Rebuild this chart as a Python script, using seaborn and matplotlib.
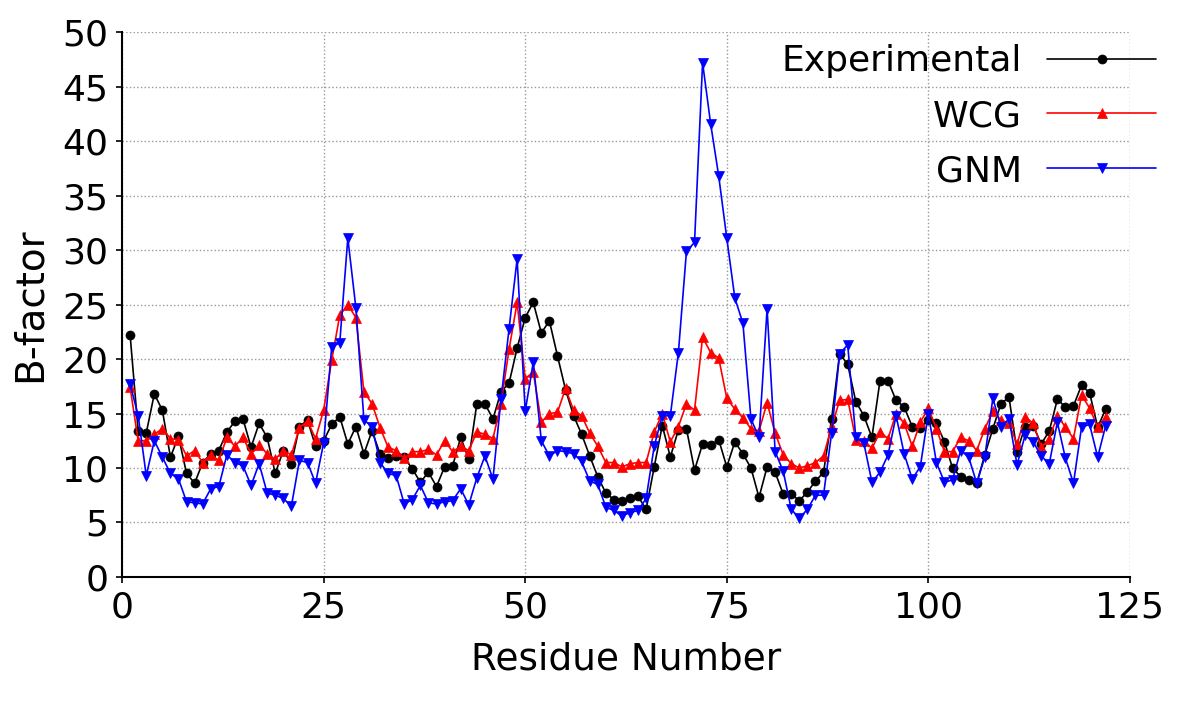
import numpy as np
import pandas as pd
import matplotlib
matplotlib.use("Agg")
import matplotlib.pyplot as plt
import seaborn as sns

residues = list(range(1, 123))

experimental = [
    22.2, 13.4, 13.2, 16.8, 15.3, 11.0, 12.9, 9.5, 8.6, 10.5,
    11.3, 11.6, 13.3, 14.3, 14.5, 11.9, 14.1, 12.8, 9.5, 11.6,
    10.4, 13.8, 14.4, 12.0, 12.5, 14.0, 14.7, 12.2, 13.8, 11.3,
    13.4, 11.3, 10.9, 11.1, 11.0, 9.9, 8.7, 9.6, 8.3, 10.1,
    10.2, 12.8, 10.8, 15.9, 15.9, 14.5, 17.0, 17.8, 21.0, 23.8,
    25.2, 22.4, 23.5, 20.3, 17.2, 14.8, 13.1, 11.1, 9.2, 7.7,
    7.1, 7.0, 7.2, 7.4, 6.2, 10.1, 13.9, 11.0, 13.5, 13.6,
    9.8, 12.2, 12.1, 12.6, 10.1, 12.4, 11.3, 10.0, 7.3, 10.1,
    9.6, 7.6, 7.6, 7.0, 7.8, 8.8, 9.6, 14.5, 20.5, 19.5,
    16.1, 14.8, 12.8, 18.0, 18.0, 16.2, 15.6, 13.8, 13.7, 14.4,
    14.1, 12.4, 10.0, 9.2, 8.9, 8.6, 11.2, 13.6, 15.9, 16.5,
    11.5, 13.8, 13.9, 12.2, 13.4, 16.3, 15.6, 15.7, 17.6, 16.9,
    13.75, 15.4,
]

wcg = [
    17.4, 12.5, 12.5, 13.1, 13.6, 12.7, 12.6, 11.1, 11.6, 10.5,
    11.2, 10.7, 12.8, 12.0, 12.8, 11.3, 12.1, 11.3, 10.8, 11.6,
    11.2, 13.7, 14.3, 12.7, 15.3, 19.9, 24.0, 25.0, 23.8, 17.0,
    15.9, 13.7, 11.9, 11.6, 10.9, 11.5, 11.5, 11.7, 11.2, 12.5,
    11.5, 12.0, 11.6, 13.3, 13.1, 12.7, 15.9, 20.9, 25.2, 18.2,
    18.8, 14.2, 15.0, 15.1, 17.3, 15.3, 14.8, 13.2, 12.0, 10.5,
    10.5, 10.1, 10.4, 10.5, 10.5, 13.3, 15.0, 12.4, 13.8, 15.9,
    15.3, 22.0, 20.6, 20.1, 16.4, 15.4, 14.6, 13.6, 13.4, 16.0,
    13.2, 11.2, 10.4, 10.0, 10.2, 10.5, 11.1, 13.8, 16.2, 16.3,
    12.6, 12.5, 11.8, 13.3, 12.7, 15.0, 14.1, 12.0, 14.2, 15.5,
    13.6, 11.5, 11.5, 12.8, 12.5, 11.6, 13.6, 15.2, 14.4, 14.1,
    12.2, 14.7, 14.1, 11.9, 12.7, 14.8, 13.75, 12.7, 16.7, 15.5,
    13.75, 14.7,
]

gnm = [
    17.7, 14.8, 9.3, 12.5, 11.0, 9.5, 9.0, 6.9, 6.8, 6.7,
    8.1, 8.3, 11.2, 10.5, 10.2, 8.4, 10.4, 7.7, 7.5, 7.2,
    6.5, 10.7, 10.5, 8.6, 12.3, 21.1, 21.5, 31.1, 24.7, 14.4,
    13.8, 10.5, 9.5, 9.3, 6.7, 7.1, 8.4, 6.8, 6.7, 6.9,
    7.0, 8.1, 6.6, 9.1, 11.1, 9.0, 16.3, 22.8, 29.2, 15.2,
    19.7, 12.5, 11.1, 11.6, 11.5, 11.3, 10.6, 8.8, 8.5, 6.4,
    6.1, 5.6, 5.9, 6.1, 7.2, 12.0, 14.8, 14.8, 20.6, 29.9,
    30.7, 47.2, 41.6, 36.8, 31.1, 25.6, 23.3, 14.5, 12.8, 24.6,
    11.5, 9.7, 6.2, 5.4, 6.2, 7.5, 7.5, 13.2, 20.5, 21.3,
    12.8, 12.3, 8.7, 9.6, 11.2, 14.8, 11.3, 9.0, 10.1, 15.0,
    10.5, 8.7, 8.9, 11.6, 11.0, 8.6, 11.0, 16.4, 13.8, 14.5,
    10.3, 13.0, 12.4, 11.1, 10.4, 14.2, 10.9, 8.6, 13.75, 14.0,
    11.0, 13.9,
]

series_names = ["Experimental", "WCG", "GNM"]
series_colors = ["#000000", "#ff0000", "#0000ff"]
series_markers = ["o", "^", "v"]
x_ticks = [0, 25, 50, 75, 100, 125]
y_ticks = [0, 5, 10, 15, 20, 25, 30, 35, 40, 45, 50]

sns.set_theme(style="ticks")
plt.rcParams["font.family"] = ["DejaVu Sans"]
plt.rcParams["text.color"] = "black"
plt.rcParams["axes.labelcolor"] = "black"
plt.rcParams["xtick.color"] = "black"
plt.rcParams["ytick.color"] = "black"

fig = plt.figure(figsize=(11.77, 7.01), dpi=100)
ax = fig.add_axes([0.1037, 0.177, 0.8563, 0.777])

for name, vals, col, mk in zip(series_names, [experimental, wcg, gnm], series_colors, series_markers):
    df = pd.DataFrame({"Residue": residues, "B": vals})
    sns.lineplot(data=df, x="Residue", y="B", ax=ax, color=col, marker=mk,
                 markersize=6.5, markeredgewidth=0.5, markeredgecolor=col,
                 linewidth=1.2, label=name)

ax.set_xlim(0, 125)
ax.set_ylim(0, 50)
ax.set_xticks(x_ticks)
ax.set_yticks(y_ticks)
ax.tick_params(axis="both", labelsize=26, length=4, width=1.2, pad=6,
               colors="black", labelcolor="black")
ax.grid(True, linestyle=":", color="#999999", linewidth=1.0)
for s in ["top", "right"]:
    ax.spines[s].set_visible(False)
for s in ["left", "bottom"]:
    ax.spines[s].set_linewidth(1.5)
    ax.spines[s].set_color("black")

ax.set_xlabel("Residue Number", fontsize=27, labelpad=12, color="black")
ax.set_ylabel("B-factor", fontsize=28, labelpad=10, color="black")

leg = ax.legend(loc="upper right", bbox_to_anchor=(0.982, 0.937),
                bbox_transform=fig.transFigure, frameon=False, fontsize=26,
                markerfirst=False, handlelength=3.0, handletextpad=0.7,
                labelspacing=0.58, borderpad=0, borderaxespad=0)
for t in leg.get_texts():
    t.set_ha("right")
    t.set_color("black")

fig.savefig("out.png", dpi=100)
